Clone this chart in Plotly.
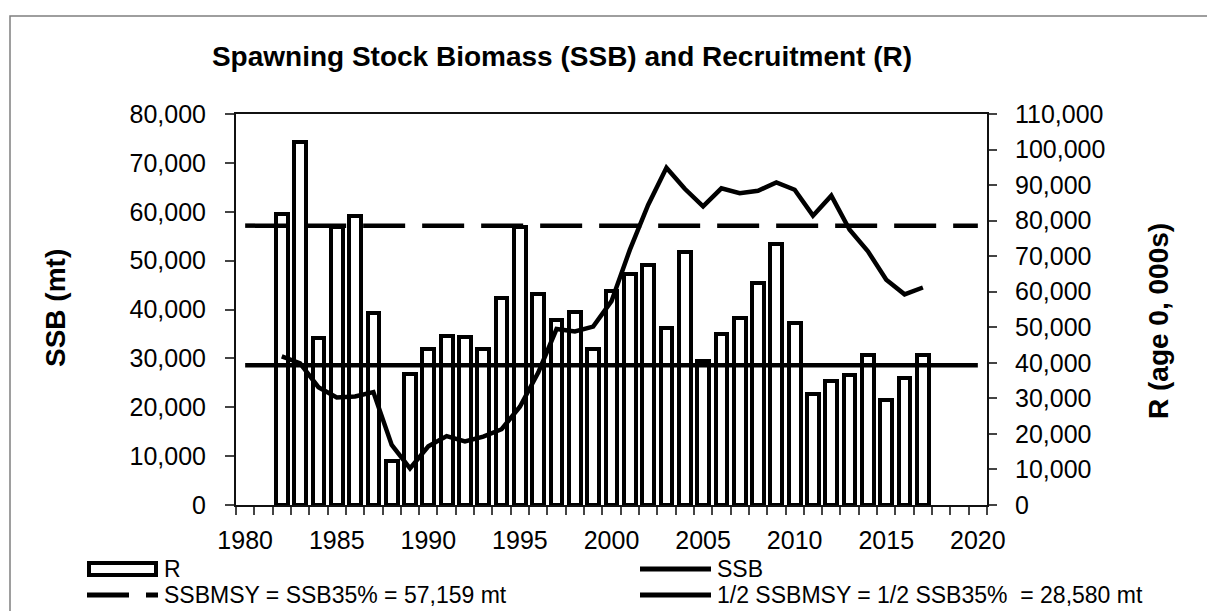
import plotly.graph_objects as go

# recruitment (R, age 0, 000s) and spawning stock biomass (SSB, mt) by year
years = list(range(1982, 2018))
recruits = [81800, 102200, 46900, 78300, 81300, 53900, 12400, 36800, 44000, 47600,
            47200, 44000, 58100, 78300, 59500, 52000, 54200, 44000, 60300, 64900,
            67600, 49900, 71100, 40500, 48000, 52500, 62400, 73500, 51100, 31100,
            35000, 36500, 42100, 29500, 35700, 42200]
ssb = [30400, 29000, 24100, 22000, 22200, 23100, 12300, 7500, 12000, 14100,
       13000, 14000, 15500, 20100, 27100, 36000, 35500, 36500, 41700, 52200,
       61400, 69000, 64700, 61100, 64800, 63800, 64300, 66000, 64500, 59200,
       63300, 56300, 51900, 46100, 43100, 44500]

ref_years = [1980, 2020]
ssb_msy = 57159
half_ssb_msy = 28580

label_years = list(range(1980, 2021, 5))

names = ["R", "SSB", "SSBMSY = SSB35% = 57,159 mt",
         "1/2 SSBMSY = 1/2 SSB35%\u00a0\u00a0= 28,580 mt"]

W, H = 1215, 611
L, R, T, B = 228, 236, 106, 114
FONT = "Liberation Sans, Arial, sans-serif"


def px_x(px):
    return (px - L) / (W - L - R)


def px_y(py):
    return (H - B - py) / (H - T - B)


fig = go.Figure()

# bars on the right-hand axis (drawn first, lines on top)
fig.add_trace(go.Bar(
    x=years, y=recruits, name=names[0], yaxis="y", width=0.64, showlegend=False,
    marker=dict(color="white", line=dict(color="black", width=4)),
))
fig.add_trace(go.Scatter(
    x=years, y=ssb, name=names[1], mode="lines", yaxis="y2", showlegend=False,
    line=dict(color="black", width=4.5),
))
fig.add_trace(go.Scatter(
    x=ref_years, y=[ssb_msy] * 2, name=names[2], mode="lines", yaxis="y2",
    showlegend=False, line=dict(color="black", width=4.5, dash="42px,17px"),
))
fig.add_trace(go.Scatter(
    x=ref_years, y=[half_ssb_msy] * 2, name=names[3], mode="lines", yaxis="y2",
    showlegend=False, line=dict(color="black", width=4.5),
))

axis_line = dict(showline=True, linecolor="#111111", linewidth=2, showgrid=False,
                 zeroline=False, tickcolor="#444444", tickwidth=1.5,
                 tickfont=dict(family=FONT, size=25, color="black"))

# legend drawn by hand: two columns, wide symbols
leg_x = [79, 632]
leg_y = [561, 587]
leg_shapes = [
    dict(type="rect", xref="paper", yref="paper",
         x0=px_x(leg_x[0] + 2), x1=px_x(leg_x[0] + 69),
         y0=px_y(leg_y[0] + 6), y1=px_y(leg_y[0] - 6),
         fillcolor="white", line=dict(color="black", width=4)),
    dict(type="line", xref="paper", yref="paper",
         x0=px_x(leg_x[1]), x1=px_x(leg_x[1] + 71),
         y0=px_y(leg_y[0]), y1=px_y(leg_y[0]),
         line=dict(color="black", width=5)),
    dict(type="line", xref="paper", yref="paper",
         x0=px_x(leg_x[0]), x1=px_x(leg_x[0] + 71),
         y0=px_y(leg_y[1]), y1=px_y(leg_y[1]),
         line=dict(color="black", width=5, dash="42px,17px")),
    dict(type="line", xref="paper", yref="paper",
         x0=px_x(leg_x[1]), x1=px_x(leg_x[1] + 71),
         y0=px_y(leg_y[1]), y1=px_y(leg_y[1]),
         line=dict(color="black", width=5)),
]
leg_text = []
for i, name in enumerate(names):
    leg_text.append(dict(
        text=name, xref="paper", yref="paper",
        x=px_x(leg_x[i % 2] + 75), y=px_y(leg_y[i // 2]),
        xanchor="left", yanchor="middle", showarrow=False,
        font=dict(family=FONT, size=23, color="black")))

fig.update_layout(
    width=W, height=H, autosize=False,
    margin=dict(l=L, r=R, t=T, b=B, pad=0),
    paper_bgcolor="white", plot_bgcolor="white",
    font=dict(family=FONT, color="black"),
    title=dict(text="<b>Spawning Stock Biomass (SSB) and Recruitment (R)</b>",
               font=dict(family=FONT, size=28, color="black"),
               x=554 / W, xanchor="center", xref="container",
               y=1 - 48 / H, yanchor="middle", yref="container"),
    xaxis=dict(range=[1979.5, 2020.5], tickvals=label_years, ticks="",
               ticklabelstandoff=12, mirror=True,
               minor=dict(tickmode="linear", tick0=1979.5, dtick=1, ticks="outside",
                          ticklen=8, tickcolor="#444444", tickwidth=1.5, showgrid=False),
               **axis_line),
    yaxis=dict(range=[0, 110000], dtick=10000, tickformat=",", ticks="outside",
               ticklen=8, ticklabelstandoff=13, side="right", **axis_line),
    yaxis2=dict(range=[0, 80000], dtick=10000, tickformat=",", ticks="outside",
                ticklen=9, ticklabelstandoff=14, overlaying="y", side="left",
                anchor="x", **axis_line),
    bargap=0,
    showlegend=False,
    annotations=[
        dict(text="<b>SSB (mt)</b>", xref="paper", yref="paper",
             x=px_x(47), y=px_y(300), textangle=-90, showarrow=False,
             xanchor="center", yanchor="middle",
             font=dict(family=FONT, size=28, color="black")),
        dict(text="<b>R (age 0, 000s)</b>", xref="paper", yref="paper",
             x=px_x(1150), y=px_y(313), textangle=-90, showarrow=False,
             xanchor="center", yanchor="middle",
             font=dict(family=FONT, size=28, color="black")),
    ] + leg_text,
    shapes=[
        dict(type="rect", xref="paper", yref="paper",
             x0=px_x(2), x1=px_x(1212), y0=px_y(608), y1=px_y(8),
             line=dict(color="#7f7f7f", width=1.5), layer="below"),
    ] + leg_shapes,
)

fig.write_html("out.html")
